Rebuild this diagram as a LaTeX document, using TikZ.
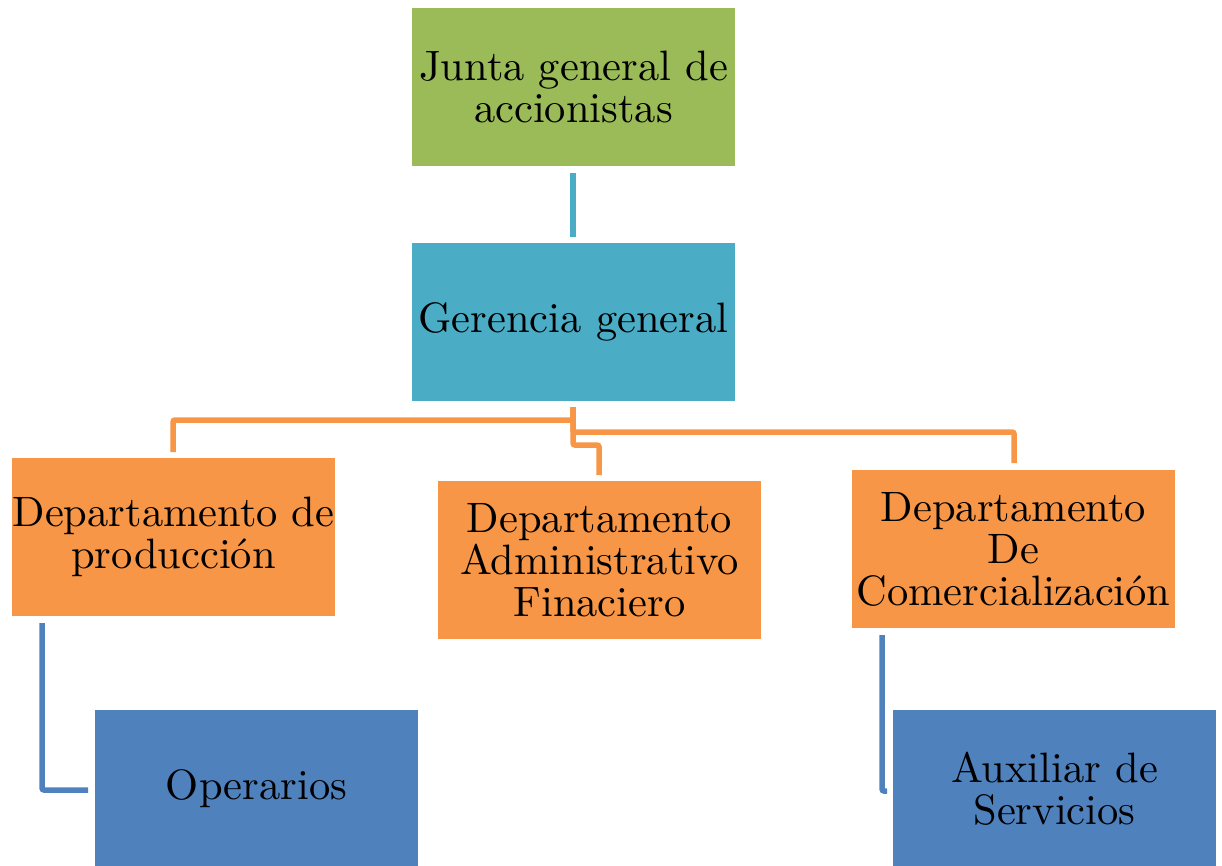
\documentclass[tikz,border=0pt]{standalone}
\usepackage{fontspec}
\setmainfont{lmroman10-regular}[Extension=.otf]
\definecolor{cgreen}{HTML}{9BBB59}
\definecolor{cteal}{HTML}{4BACC6}
\definecolor{corange}{HTML}{F79646}
\definecolor{cblue}{HTML}{4F81BD}
\begin{document}
\begin{tikzpicture}[x=1pt,y=-1pt,
  box/.style={rectangle, minimum width=323pt, minimum height=158pt, inner sep=0pt, align=center,
    font=\fontsize{42.5}{42}\selectfont, text=black},
  conn/.style={line width=5.5pt, rounded corners=2pt},
]
\useasboundingbox (0,0) rectangle (1222,865);
\node[box, fill=cgreen] (junta) at (573.5,87) {Junta general de\\accionistas};
\node[box, fill=cteal] (ger) at (573.5,322) {Gerencia general};
\node[box, fill=corange] (prod) at (173.5,537) {Departamento de\\producción};
\node[box, fill=corange] (adm) at (599.5,560) {Departamento\\Administrativo\\Finaciero};
\node[box, fill=corange] (com) at (1013.5,549) {Departamento\\De\\Comercialización};
\node[box, fill=cblue] (ope) at (256.5,789) {Operarios};
\node[box, fill=cblue] (aux) at (1054.5,789) {Auxiliar de\\Servicios};
% junta - gerencia
\coordinate (j1) at (573,173);
\coordinate (j2) at (573,237);
\draw[cteal, line width=5.5pt] (j1) -- (j2);
% gerencia - departments
\coordinate (hub) at (573,407);
\coordinate (p1) at (573,420);
\coordinate (pe) at (173,452);
\coordinate (c1) at (573,432);
\coordinate (ce) at (1014,463);
\coordinate (a1) at (573,445);
\coordinate (ae) at (599,475);
\draw[corange, conn] (hub) -- (p1) -| (pe);
\draw[corange, conn] (hub) -- (c1) -| (ce);
\draw[corange, conn] (hub) -- (a1) -| (ae);
% departments - subordinates
\coordinate (o1) at (42,623);
\coordinate (o2) at (88,790);
\draw[cblue, conn] (o1) |- (o2);
\coordinate (s1) at (882,635);
\coordinate (s2) at (887,791);
\draw[cblue, conn] (s1) |- (s2);
\end{tikzpicture}
\end{document}
